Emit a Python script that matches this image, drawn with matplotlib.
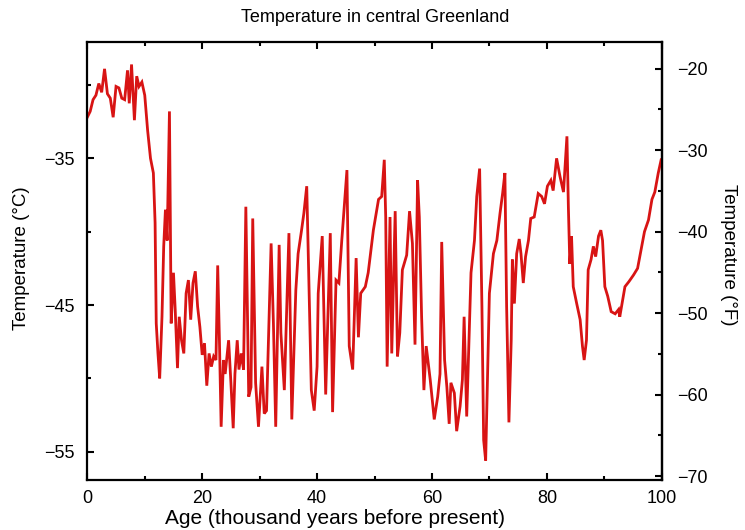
import matplotlib
matplotlib.use("Agg")
import matplotlib.pyplot as plt
from matplotlib.ticker import MultipleLocator

plt.rcParams['font.family'] = ['Liberation Sans', 'DejaVu Sans']

# Age (thousand years before present)
age = [0, 0.5, 1, 1.5, 2, 2.5, 3, 3.5, 4, 4.5, 5, 5.5, 6, 6.5, 7, 7.3, 7.7, 8.2, 8.6, 9,
       9.5, 10, 10.5, 11, 11.5, 11.8, 12, 12.3, 12.6, 13, 13.3, 13.6, 13.9, 14.3, 14.6, 15,
       15.3, 15.7, 16, 16.4, 16.8, 17.2, 17.6, 18, 18.4, 18.8, 19.2, 19.6, 20, 20.4, 20.8,
       21.2, 21.6, 22, 22.4, 22.7, 23, 23.3, 23.7,
       24, 24.6, 25.0, 25.4, 25.7, 26.1, 26.4, 26.8, 27.2, 27.6, 28.1, 28.5, 28.8, 29.3,
       29.8, 30.4, 30.8, 31.2, 32.0, 32.4, 32.8, 33.4, 33.7, 34.3, 35.1, 35.6, 36.3, 36.7,
       37.3, 37.7, 38.2, 38.6, 39.0, 39.5, 40.0, 40.2, 40.9, 41.5, 42.3, 42.7, 43.3, 43.8,
       44.3, 45.2, 45.6, 46.2, 46.8, 47.2, 47.6, 48.4,
       48.9, 49.8, 50.7, 51.25, 51.7, 51.95, 52.2, 52.7, 53.0, 53.6, 54.0, 54.4, 54.85,
       55.6, 56.1, 56.6, 57.05, 57.5, 57.8, 58.2, 58.6, 59.0, 59.7, 60.4, 61.0, 61.4, 61.7,
       62.2, 62.6, 63.0, 63.3, 63.9, 64.3, 64.9, 65.3, 65.6, 66.05, 66.8, 67.4, 67.8, 68.3,
       68.7, 69.0, 69.35, 70.0, 70.7, 71.3, 71.85, 72.3, 72.7,
       73.0, 73.4, 73.8, 74.0, 74.35, 74.75, 75.2, 75.5, 75.9, 76.3, 76.8, 77.2, 77.8, 78.5,
       79.1, 79.6, 80.1, 80.7, 81.1, 81.7, 82.3, 82.9, 83.5, 83.75, 84.0, 84.3, 84.6, 85.2,
       85.8, 86.2, 86.5, 86.9, 87.2, 87.7, 88.1, 88.5, 89.0, 89.4, 89.7, 90.1, 90.6, 91.2,
       91.9, 92.5, 92.7, 93.1, 93.6, 94.3, 95.1, 95.8, 96.4, 97.0, 97.7, 98.3, 98.8, 99.4,
       99.9]

# Temperature (deg C)
temp_c = [-32.2, -31.8, -31.0, -30.7, -29.9, -30.5, -28.9, -30.6, -30.9, -32.2, -30.1, -30.2,
          -30.9, -31.0, -29.0, -31.25, -28.6, -32.4, -29.4, -30.1, -29.8, -30.7, -33.1, -35.0,
          -36.0, -39.4, -46.25, -48.3, -50.0, -45.8, -41.0, -38.5, -40.6, -31.8, -46.25, -42.8,
          -45.3, -49.3, -45.8, -47.4, -48.3, -44.2, -43.3, -46.0, -43.5, -42.7, -45.1, -46.5,
          -48.4, -47.6, -50.5, -48.3, -49.2, -48.5, -48.75, -42.3, -47.4, -53.3, -48.75,
          -49.7, -47.4, -50.3, -53.4, -49.7, -47.4, -49.4, -48.3, -49.4, -38.3, -51.25, -50.6,
          -39.1, -50.3, -53.3, -49.2, -52.4, -52.2, -40.8, -46.25, -53.3, -40.9, -46.9, -50.8,
          -40.1, -52.8, -44.0, -41.5, -39.9, -38.75, -36.9, -44.0, -50.8, -52.2, -49.2, -44.2,
          -40.3, -51.1, -40.1, -52.3, -43.3, -43.5, -40.6, -35.8, -47.8, -49.4, -41.8, -47.2,
          -44.2, -43.75,
          -42.8, -39.9, -37.8, -37.6, -35.1, -39.0, -49.2, -39.0, -48.3, -38.6, -48.5, -46.9,
          -42.6, -41.6, -38.6, -40.8, -47.7, -36.5, -39.0, -45.8, -50.8, -47.8, -50.1, -52.8,
          -51.25, -49.7, -40.7, -48.75, -50.6, -53.1, -50.3, -51.0, -53.6, -51.9, -50.1, -45.8,
          -52.6, -42.8, -40.6, -37.6, -35.7, -45.1, -54.2, -55.6, -44.2, -41.5, -40.6, -38.75,
          -37.4, -36.0,
          -45.1, -53.0, -47.4, -41.9, -44.9, -41.5, -40.5, -41.5, -43.5, -41.7, -40.6, -39.1,
          -39.0, -37.4, -37.6, -38.1, -36.9, -36.5, -37.2, -35.0, -36.25, -37.3, -33.5, -38.3,
          -42.2, -40.3, -43.75, -44.9, -46.0, -47.8, -48.75, -47.4, -42.6, -41.9, -41.0, -41.7,
          -40.3, -39.9, -40.6, -43.75, -44.4, -45.45, -45.6, -45.3, -45.8, -44.9, -43.75, -43.4,
          -42.95, -42.5, -41.25, -40.0, -39.2, -37.8, -37.3, -36.0, -35.1]

x_ticks = [0, 20, 40, 60, 80, 100]
c_ticks = [-35, -45, -55]
f_ticks = [-20, -30, -40, -50, -60, -70]

fig = plt.figure(figsize=(7.45, 5.3), dpi=100)
ax = fig.add_axes([0.1172, 0.0943, 0.771, 0.827])

ax.plot(age, temp_c, color='#d81414', lw=2.0, solid_joinstyle='miter')

ax.set_xlim(0, 100)
ax.set_ylim(-56.93, -27.05)

ax.set_xticks(x_ticks)
ax.xaxis.set_minor_locator(MultipleLocator(10))
ax.set_yticks(c_ticks)
ax.yaxis.set_minor_locator(MultipleLocator(5))
ax.set_yticklabels([f"\u2212{abs(v)}" for v in c_ticks])
ax.set_xticklabels([str(v) for v in x_ticks])

ax.tick_params(axis='both', which='both', direction='in', top=True, right=False,
               labelsize=13, width=1.5)
ax.tick_params(axis='both', which='major', length=5)
ax.tick_params(axis='x', which='major', pad=7)
ax.tick_params(axis='y', which='major', pad=9)
ax.tick_params(axis='both', which='minor', length=3)
for s in ax.spines.values():
    s.set_linewidth(1.6)

sec = ax.secondary_yaxis('right', functions=(lambda c: c * 1.8 + 32, lambda f: (f - 32) / 1.8))
sec.set_yticks(f_ticks)
sec.set_yticklabels([f"\u2212{abs(v)}" for v in f_ticks])
sec.yaxis.set_minor_locator(MultipleLocator(5))
sec.tick_params(axis='y', which='both', direction='in', labelsize=13, width=1.5)
sec.tick_params(axis='y', which='major', length=5, pad=11)
sec.tick_params(axis='y', which='minor', length=3)
sec.spines['right'].set_linewidth(1.6)

fig.text(0.503, 1 - 17 / 530, "Temperature in central Greenland", ha='center', va='center',
         fontsize=13)
fig.text(335 / 745, 1 - 519 / 530, "Age (thousand years before present)", ha='center',
         va='center', fontsize=15)
fig.text(22 / 745, 1 - 258 / 530, "Temperature (\u00b0C)", ha='center', va='center',
         rotation=90, fontsize=13.5)
fig.text(728 / 745, 1 - 255 / 530, "Temperature (\u00b0F)", ha='center', va='center',
         rotation=270, fontsize=13.5)

fig.savefig("out.png", dpi=100)
